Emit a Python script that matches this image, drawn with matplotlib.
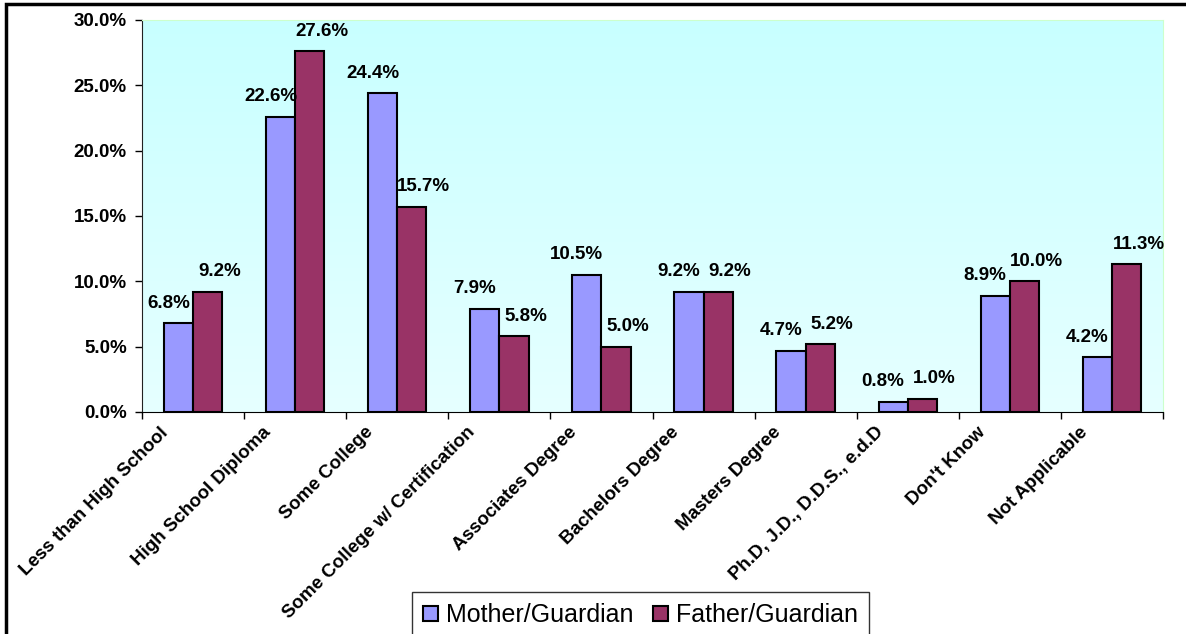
import numpy as np
import matplotlib
matplotlib.use("Agg")
import matplotlib.pyplot as plt
from matplotlib.patches import Rectangle
from matplotlib.ticker import PercentFormatter, FixedLocator, NullFormatter
import matplotlib.transforms as mtransforms

categories = ["Less than High School", "High School Diploma", "Some College",
              "Some College w/ Certification", "Associates Degree", "Bachelors Degree",
              "Masters Degree", "Ph.D, J.D., D.D.S., e.d.D", "Don't Know", "Not Applicable"]
mother = [6.8, 22.6, 24.4, 7.9, 10.5, 9.2, 4.7, 0.8, 8.9, 4.2]
father = [9.2, 27.6, 15.7, 5.8, 5.0, 9.2, 5.2, 1.0, 10.0, 11.3]
series_names = ["Mother/Guardian", "Father/Guardian"]

plt.rcParams['font.family'] = ['Liberation Sans', 'DejaVu Sans']

fig = plt.figure(figsize=(11.86, 6.34), dpi=100)
ax = fig.add_axes([142 / 1186, 1 - 412 / 634, (1163 - 142) / 1186, (412 - 20) / 634])

# gradient background of the plot area
grad = np.linspace(0, 1, 256).reshape(-1, 1)
top_c = np.array([200, 255, 255]) / 255
bot_c = np.array([230, 255, 255]) / 255
img = top_c * (1 - grad[..., None]) + bot_c * grad[..., None]
ax.imshow(img, extent=[0, 1, 0, 1], transform=ax.transAxes, aspect='auto', zorder=0)

x = np.arange(len(categories))
w = 1 / 3.5
b1 = ax.bar(x - w / 2, mother, w, color='#9999FF', edgecolor='black', linewidth=1.5,
            label=series_names[0], zorder=2)
b2 = ax.bar(x + w / 2, father, w, color='#993366', edgecolor='black', linewidth=1.5,
            label=series_names[1], zorder=2)

for bars, vals, dx in [(b1, mother, -10), (b2, father, 12)]:
    for r, v in zip(bars, vals):
        ax.annotate(f"{v:.1f}%", (r.get_x() + r.get_width() / 2, v),
                    xytext=(dx, 20), textcoords='offset pixels', ha='center', va='center',
                    fontsize=13.5, fontweight='bold', zorder=3)

ax.set_xlim(-0.5, len(categories) - 0.5)
ax.set_ylim(0, 30)
ax.yaxis.set_major_locator(FixedLocator(np.arange(0, 31, 5)))
ax.yaxis.set_major_formatter(PercentFormatter(decimals=1))
ax.tick_params(axis='y', length=5, width=1, pad=6, labelsize=13.5)
for lab in ax.get_yticklabels():
    lab.set_fontweight('bold')

# ticks at category boundaries, labels at centers
ax.xaxis.set_major_locator(FixedLocator(np.arange(-0.5, len(categories), 1)))
ax.xaxis.set_major_formatter(NullFormatter())
ax.xaxis.set_minor_locator(FixedLocator(x))
ax.set_xticklabels(categories, minor=True)
ax.tick_params(axis='x', which='major', length=5, width=1)
ax.tick_params(axis='x', which='minor', length=0, pad=10)
offset = mtransforms.ScaledTranslation(-0.27, -0.04, fig.dpi_scale_trans)
for lab in ax.get_xticklabels(minor=True):
    lab.set_rotation(45)
    lab.set_ha('right')
    lab.set_va('center')
    lab.set_rotation_mode('anchor')
    lab.set_fontsize(13.5)
    lab.set_fontweight('bold')
    lab.set_transform(lab.get_transform() + offset)

ax.spines['left'].set_color('#222222')
ax.spines['bottom'].set_color('black')
ax.spines['top'].set_color('#CCFFCC')
ax.spines['right'].set_color('#CCFFCC')

leg = fig.legend(handles=[b1, b2], loc='upper left', bbox_to_anchor=(412 / 1186, 1 - 592 / 634),
                 ncol=2, fontsize=18, frameon=True, fancybox=False, edgecolor='black',
                 handlelength=0.6, handleheight=0.6, handletextpad=0.3, columnspacing=0.8,
                 borderpad=0.45, borderaxespad=0)
leg.get_frame().set_linewidth(1)

# outer chart border (cut off at right and bottom)
fig.patches.append(Rectangle((6 / 1186, -0.1), 1.1, 0.1 + 1 - 4 / 634, transform=fig.transFigure,
                             fill=False, edgecolor='black', linewidth=2.5, zorder=10))

fig.savefig("out.png", dpi=100)
